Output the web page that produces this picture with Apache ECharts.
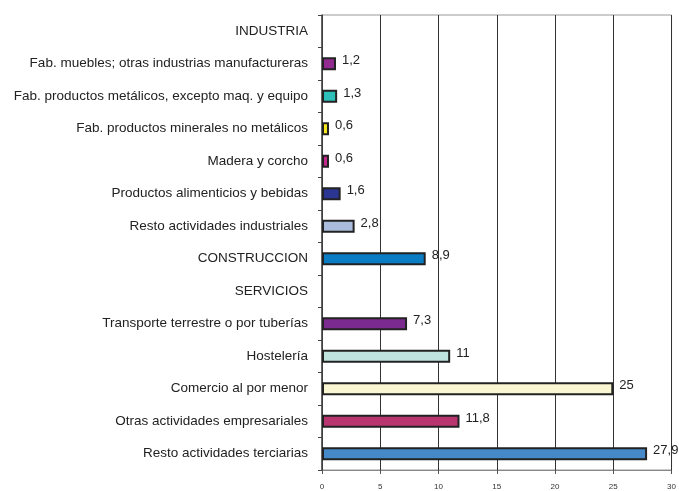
<!DOCTYPE html>
<html>
<head>
<meta charset="utf-8">
<script src="https://cdn.jsdelivr.net/npm/echarts@6/dist/echarts.min.js"></script>
<style>html,body{margin:0;padding:0;background:#fff;}#c{width:679px;height:491px;}</style>
</head>
<body>
<div id="c"></div>
<script>
const categories = [
  "INDUSTRIA",
  "Fab. muebles; otras industrias manufactureras",
  "Fab. productos metálicos, excepto maq. y equipo",
  "Fab. productos minerales no metálicos",
  "Madera y corcho",
  "Productos alimenticios y bebidas",
  "Resto actividades industriales",
  "CONSTRUCCION",
  "SERVICIOS",
  "Transporte terrestre o por tuberías",
  "Hostelería",
  "Comercio al por menor",
  "Otras actividades empresariales",
  "Resto actividades terciarias"
];
const values = [null, 1.2, 1.3, 0.6, 0.6, 1.6, 2.8, 8.9, null, 7.3, 11, 25, 11.8, 27.9];
const barColors = [null, "#922b8f", "#2ebfb8", "#f7e81e", "#c42a8c", "#2b3592", "#aabcde", "#0a7cc4", null, "#7b2b8f", "#bfe3df", "#fbf6d2", "#b9356f", "#4589c9"];
const xTicks = [0, 5, 10, 15, 20, 25, 30];

const chart = echarts.init(document.getElementById('c'), null, {renderer: 'canvas'});
chart.setOption({
  animation: false,
  backgroundColor: '#fff',
  grid: {left: 322, right: 6, top: 15, bottom: 21, show: true, borderColor: '#999', borderWidth: 1},
  xAxis: {
    type: 'value', min: xTicks[0], max: xTicks[xTicks.length - 1], interval: 5,
    axisLine: {show: true, lineStyle: {color: '#888', width: 1}},
    axisTick: {show: true, length: 4, lineStyle: {color: '#555'}},
    axisLabel: {fontSize: 8, color: '#333', margin: 13, fontFamily: 'Liberation Sans'},
    splitLine: {show: true, lineStyle: {color: '#333', width: 1}}
  },
  yAxis: {
    type: 'category', data: categories, inverse: true,
    axisLine: {show: true, lineStyle: {color: '#444', width: 1.5}},
    axisTick: {show: true, length: 4, lineStyle: {color: '#444'}},
    axisLabel: {fontSize: 13.5, color: '#222', margin: 14, fontFamily: 'Liberation Sans'}
  },
  series: [{
    type: 'bar',
    barWidth: 13,
    data: values.map((v, i) => ({
      value: v,
      itemStyle: {color: barColors[i] || '#fff', borderColor: '#222', borderWidth: 2}
    })),
    label: {
      show: true, position: 'right', distance: 6, offset: [0, -3],
      fontSize: 13, color: '#222', fontFamily: 'Liberation Sans',
      formatter: p => p.value == null ? '' : String(p.value).replace('.', ',')
    }
  }]
});
</script>
</body>
</html>
